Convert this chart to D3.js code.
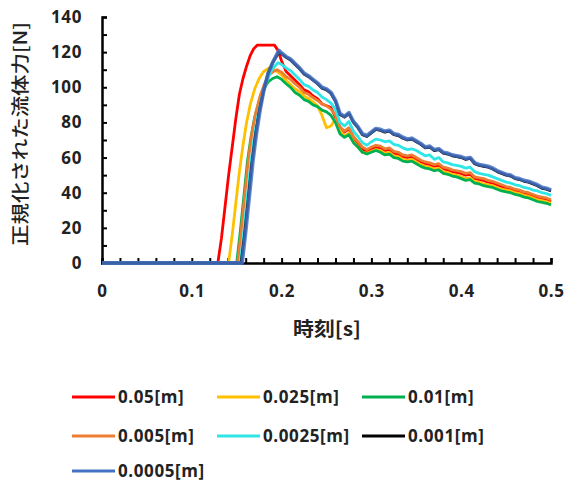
<!DOCTYPE html>
<html>
<head>
<meta charset="utf-8">
<script src="https://cdn.jsdelivr.net/npm/d3@7"></script>
<style>
  body { margin: 0; background: #fff; }
  svg { display: block; }
  .num { font-family: "Open Sans", "Liberation Sans", sans-serif; font-weight: bold; font-size: 17px; letter-spacing: 0.6px; fill: #222; }
  .jp { font-family: "Noto Sans CJK JP", sans-serif; fill: #222; }
</style>
</head>
<body>
<div id="chart"></div>
<script>
var width = 568,
    height = 483;

// series labels and colours
var seriesNames = ["0.05[m]", "0.025[m]", "0.01[m]", "0.005[m]", "0.0025[m]", "0.001[m]", "0.0005[m]"];
var seriesColors = ["#ff0000", "#ffc000", "#00b050", "#ed7d31", "#2ee6e6", "#000000", "#4472c4"];

// rise part of every curve, [time, force]
var rise005 = [[0, 0], [0.129, 0], [0.133, 14], [0.137, 32], [0.141, 50], [0.145, 66], [0.149, 82], [0.153, 96], [0.157, 105], [0.161, 112], [0.165, 118], [0.169, 122], [0.173, 124], [0.185, 124], [0.192, 124], [0.196, 121]];
var rise0025 = [[0, 0], [0.141, 0], [0.145, 16], [0.149, 34], [0.153, 52], [0.157, 67], [0.161, 80], [0.165, 90], [0.170, 99], [0.175, 105], [0.180, 109], [0.186, 111], [0.192, 110]];
var rise001 = [[0, 0], [0.150, 0], [0.154, 18], [0.158, 38], [0.162, 58], [0.166, 72], [0.170, 83], [0.175, 92], [0.180, 99], [0.185, 103], [0.190, 105], [0.195, 106]];
var rise0005 = [[0, 0], [0.151, 0], [0.155, 18], [0.159, 39], [0.163, 59], [0.167, 74], [0.171, 85], [0.176, 95], [0.181, 102], [0.186, 107], [0.191, 109], [0.195, 110]];
var rise00025 = [[0, 0], [0.154, 0], [0.158, 18], [0.162, 38], [0.166, 58], [0.170, 73], [0.174, 85], [0.179, 96], [0.184, 104], [0.189, 110], [0.196, 114]];
var rise0001 = [[0, 0], [0.155, 0], [0.159, 17], [0.163, 37], [0.167, 57], [0.171, 73], [0.175, 86], [0.180, 98], [0.185, 108], [0.190, 114], [0.197, 120]];
var rise00005 = [[0, 0], [0.156, 0], [0.160, 18], [0.164, 38], [0.168, 58], [0.172, 74], [0.176, 87], [0.180, 98], [0.185, 108], [0.190, 114], [0.197, 121]];

// decay part, shared time points
var decayTime = [0.200, 0.205, 0.210, 0.215, 0.220, 0.225, 0.230, 0.235, 0.240, 0.245,
                 0.250, 0.255, 0.260, 0.265, 0.270, 0.275, 0.280, 0.285, 0.290, 0.295,
                 0.300, 0.305, 0.310, 0.315, 0.320, 0.325, 0.330, 0.335, 0.340, 0.345,
                 0.350, 0.355, 0.360, 0.365, 0.370, 0.375, 0.380, 0.385, 0.390, 0.395,
                 0.400, 0.405, 0.410, 0.415, 0.420, 0.425, 0.430, 0.435, 0.440, 0.445,
                 0.450, 0.455, 0.460, 0.465, 0.470, 0.475, 0.480, 0.485, 0.490, 0.495, 0.500];
var decay005 = [115, 109, 106.5, 104, 101.5, 98.5, 97.5, 95, 93.5, 90.5,
                89.5, 88.5, 83, 77, 74.5, 76.5, 71, 68, 65, 63.5,
                65, 66, 65.5, 64, 64.5, 62.5, 62, 60.5, 60, 60.5,
                59, 57.5, 56.5, 56, 55, 55.5, 53.5, 53, 52, 51.5,
                51, 50, 50.5, 48, 47.5, 47, 46, 45.5, 44.5, 43.5,
                42.5, 42, 41, 40.5, 39.5, 39, 38, 37, 36.5, 36, 35];
var decay0025 = [107, 104, 101.5, 99, 97.5, 95, 93.5, 91.5, 89.5, 84,
                 77, 78, 82, 75.5, 72, 74, 69, 66, 63, 62.5,
                 63.5, 64.5, 64, 62.5, 63, 61, 60.5, 59, 58.5, 59,
                 57.5, 56, 55, 54.5, 53.5, 54, 52, 51.5, 50.5, 50,
                 49, 48, 48.5, 46.5, 46, 45, 44.5, 44, 43, 42,
                 41.5, 41, 40, 39.5, 38.5, 38, 37, 36, 35.5, 35, 34];
var decay001 = [104.5, 102, 100, 97, 95.5, 93, 92, 90, 89, 87,
                86, 84, 80, 73.5, 71.5, 73, 68.5, 66, 63, 62,
                63, 64, 63, 61.5, 62, 60, 59.5, 58, 57.5, 58,
                56.5, 55, 54, 53.5, 52.5, 53, 51, 50.5, 49.5, 49,
                48, 47, 47.5, 45.5, 45, 44, 43.5, 43, 42, 41,
                40.5, 40, 39, 38.5, 37.5, 37, 36, 35, 34.5, 34, 33];
var decay0005 = [108.5, 106, 104.5, 102, 100, 97, 96, 94, 92.5, 90.5,
                 89.5, 87.5, 84, 77.5, 75, 77, 72, 69, 66, 64.5,
                 66, 67, 66.5, 65, 65.5, 63.5, 63, 61.5, 61, 61.5,
                 60, 58.5, 57.5, 57, 56, 56.5, 54.5, 54, 53, 52.5,
                 52, 51, 51.5, 49, 48.5, 48, 47, 46.5, 45.5, 44.5,
                 43.5, 43, 42, 41.5, 40.5, 40, 39, 38, 37.5, 37, 36];
var decay00025 = [113, 111, 109.5, 107, 104.5, 101.5, 100.5, 98.5, 97, 94.5,
                  93, 91, 87.5, 80, 78, 80.5, 75, 72, 68.5, 67,
                  69, 70.5, 70, 69, 69.5, 67.5, 67, 65.5, 64.5, 65,
                  64, 62.5, 61, 61.5, 59, 60, 57.5, 57, 56, 55.5,
                  55, 54, 54.5, 52, 51, 50.5, 50, 49, 48, 47,
                  46, 45.5, 44.5, 44, 43, 42.5, 41.5, 41, 40, 39.5, 38.5];
var decay0001 = [119, 117, 115.5, 113, 110.5, 107.5, 106, 104, 102, 99.5,
                 98.5, 96.5, 92, 84.5, 83, 85, 80, 77, 73, 72,
                 74, 76, 75.5, 74.5, 75, 73, 72.5, 71, 70, 70.5,
                 69, 67.5, 65.5, 66, 64, 64.5, 62.5, 62, 61, 60.5,
                 60, 59, 59.5, 56.5, 55.5, 55, 54.5, 53.5, 52, 51,
                 50, 49.5, 48, 47.5, 46.5, 46, 45, 44, 42.5, 42, 41];
var decay00005 = [119.5, 117.5, 116, 113.5, 111, 108, 106.5, 104.5, 102.5, 100,
                  99, 97, 92.5, 85, 83.5, 85.5, 80.5, 77.5, 73.5, 72.5,
                  74.5, 76.5, 76, 75, 75.5, 73.5, 73, 71.5, 70.5, 71,
                  69.5, 68, 66, 66.5, 64.5, 65, 63, 62.5, 61.5, 61,
                  60.5, 59.5, 60, 57, 56, 55.5, 55, 54, 52.5, 51.5,
                  50.5, 50, 48.5, 48, 47, 46.5, 45.5, 44.5, 43, 42.5, 41.5];

var rises = [rise005, rise0025, rise001, rise0005, rise00025, rise0001, rise00005];
var decays = [decay005, decay0025, decay001, decay0005, decay00025, decay0001, decay00005];

var xTicks = [0, 0.1, 0.2, 0.3, 0.4, 0.5];
var yTicks = [0, 20, 40, 60, 80, 100, 120, 140];

var svg = d3.select("#chart")
            .append("svg")
            .attr("width", width)
            .attr("height", height);

var x = d3.scaleLinear().domain([0, 0.5]).range([102, 551]);
var y = d3.scaleLinear().domain([0, 140]).range([263, 17]);

// small inner ticks
svg.append("g")
   .attr("transform", "translate(0," + y(0) + ")")
   .call(d3.axisBottom(x).tickValues(d3.range(0, 0.501, 0.02)).tickSize(-5).tickFormat(""))
   .call(function(g){
     g.select(".domain").attr("stroke", "#000").attr("stroke-width", 2.5);
     g.selectAll(".tick line").attr("stroke", "#000").attr("stroke-width", 2);
   });
svg.append("g")
   .attr("transform", "translate(" + x(0) + ",0)")
   .call(d3.axisLeft(y).tickValues(d3.range(0, 141, 10)).tickSize(-5).tickFormat(""))
   .call(function(g){
     g.select(".domain").attr("stroke", "#000").attr("stroke-width", 2.5);
     g.selectAll(".tick line").attr("stroke", "#000").attr("stroke-width", 2);
   });

// tick labels
svg.append("g")
   .attr("transform", "translate(0," + y(0) + ")")
   .call(d3.axisBottom(x).tickValues(xTicks).tickSize(0).tickPadding(22).tickFormat(d3.format("")))
   .call(function(g){
     g.select(".domain").remove();
     g.selectAll("text").attr("class", "num").attr("font-size", null).attr("font-family", null);
   });
svg.append("g")
   .attr("transform", "translate(" + x(0) + ",0)")
   .call(d3.axisLeft(y).tickValues(yTicks).tickSize(0).tickPadding(20))
   .call(function(g){
     g.select(".domain").remove();
     g.selectAll("text").attr("class", "num").attr("font-size", null).attr("font-family", null);
   });

// axis titles
svg.append("text")
   .attr("class", "jp")
   .attr("x", 327).attr("y", 336)
   .attr("text-anchor", "middle")
   .attr("font-size", 19).attr("font-weight", "bold")
   .attr("textLength", 68).attr("lengthAdjust", "spacingAndGlyphs")
   .text("時刻[s]");
svg.append("text")
   .attr("class", "jp")
   .attr("transform", "translate(27,134) rotate(-90)")
   .attr("text-anchor", "middle")
   .attr("font-size", 18).attr("font-weight", 500)
   .attr("textLength", 224).attr("lengthAdjust", "spacingAndGlyphs")
   .text("正規化された流体力[N]");

// curves
var line = d3.line()
    .x(function(d){ return x(d[0]); })
    .y(function(d){ return y(d[1]); });

var curves = seriesNames.map(function(name, i){
  var pts = rises[i].slice();
  decayTime.forEach(function(t, j){ pts.push([t, decays[i][j]]); });
  return { name: name, color: seriesColors[i], pts: pts };
});

svg.append("g")
   .selectAll("path")
   .data(curves)
   .enter().append("path")
   .attr("fill", "none")
   .attr("stroke", function(d){ return d.color; })
   .attr("stroke-width", function(d, i){ return i == 6 ? 3.8 : 2.8; })
   .attr("stroke-opacity", function(d, i){ return i == 6 ? 0.85 : 1; })
   .attr("stroke-linejoin", "round")
   .attr("d", function(d){ return line(d.pts); });

// legend
var legendX = [72, 217, 362];
var legendY = [397, 436, 471];

var leg = svg.append("g")
   .selectAll("g")
   .data(curves)
   .enter().append("g")
   .attr("transform", function(d, i){ return "translate(" + legendX[i % 3] + "," + legendY[Math.floor(i / 3)] + ")"; });
leg.append("line")
   .attr("x1", 0).attr("x2", 43)
   .attr("stroke", function(d){ return d.color; })
   .attr("stroke-width", 2.8);
leg.append("text")
   .attr("class", "num")
   .attr("x", 46)
   .attr("dy", "0.36em")
   .attr("letter-spacing", 1)
   .text(function(d){ return d.name; });
</script>
</body>
</html>
